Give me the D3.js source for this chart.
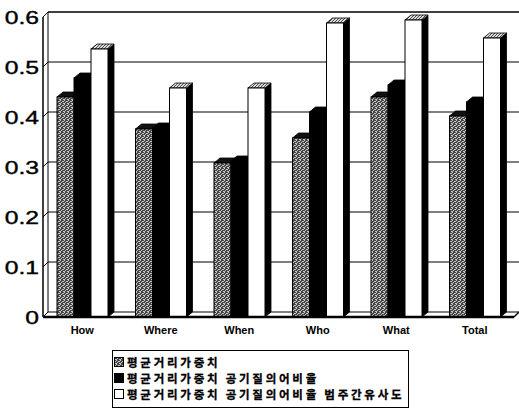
<!DOCTYPE html>
<html><head><meta charset="utf-8">
<script src="https://cdn.jsdelivr.net/npm/d3@7"></script>
<style>body{margin:0;background:#fff}svg{display:block}</style>
</head><body>
<svg id="c" width="519" height="409"></svg>
<script>
const categories = ["How","Where","When","Who","What","Total"];
const seriesNames = ["평균거리가중치","평균거리가중치 공기질의어비율","평균거리가중치 공기질의어비율 범주간유사도"];
const s1 = [0.44, 0.376, 0.308, 0.358, 0.44, 0.402];
const s2 = [0.478, 0.378, 0.312, 0.41, 0.464, 0.43];
const s3 = [0.536, 0.458, 0.458, 0.588, 0.594, 0.558];
const yTicks = [0, 0.1, 0.2, 0.3, 0.4, 0.5, 0.6];
const yTickLabels = ["0","0.1","0.2","0.3","0.4","0.5","0.6"];

const series = [s1, s2, s3];
const svg = d3.select("#c");
const defs = svg.append("defs");
const pat = defs.append("pattern").attr("id","stip").attr("width",4).attr("height",4).attr("patternUnits","userSpaceOnUse");
pat.append("rect").attr("width",4).attr("height",4).attr("fill","#444");
[[0,0],[2,1],[1,2],[3,3],[3,1],[0,3]].forEach(([a,b])=>pat.append("rect").attr("x",a).attr("y",b).attr("width",1).attr("height",1).attr("fill","#c8c8c8"));
const hat = defs.append("pattern").attr("id","hatch").attr("width",3).attr("height",3).attr("patternUnits","userSpaceOnUse");
hat.append("rect").attr("width",3).attr("height",3).attr("fill","#ddd");
hat.append("path").attr("d","M0,3L3,0").attr("stroke","#222").attr("stroke-width",0.8);

const dx = 6, dy = 5;
const x0 = d3.scaleBand().domain(categories).range([43, 514]);
const x1 = d3.scaleBand().domain([0,1,2]).range([14, 65]);
const y = d3.scaleLinear().domain([0, 0.6]).range([317, 17]);

const fills = ["url(#stip)", "#000", "#fff"];
const topFills = ["#111", "#000", "url(#hatch)"];

yTicks.forEach(t => {
  svg.append("line").attr("x1", 43+dx-1).attr("x2", 519).attr("y1", y(t)-dy).attr("y2", y(t)-dy)
    .attr("stroke","#000").attr("stroke-width", t===0.6?1.6:1.1);
});
svg.append("line").attr("x1",43).attr("x2",43).attr("y1",y(0)).attr("y2",y(0.6)).attr("stroke","#000").attr("stroke-width",1.5);
svg.append("line").attr("x1",43+dx-1).attr("x2",43+dx-1).attr("y1",y(0)-dy).attr("y2",y(0.6)-dy).attr("stroke","#000").attr("stroke-width",1);
yTicks.forEach(t => {
  svg.append("line").attr("x1",43).attr("x2",43+dx-1).attr("y1",y(t)).attr("y2",y(t)-dy).attr("stroke","#000").attr("stroke-width",1);
});

categories.forEach((c, i) => {
  series.forEach((s, k) => {
    const v = s[i];
    const x = x0(c) + x1(k), w = x1.bandwidth();
    const yt = y(v), yb = y(0);
    const g = svg.append("g");
    g.append("path").attr("d", `M${x+w},${yt}L${x+w+dx},${yt-dy}L${x+w+dx},${yb-dy}L${x+w},${yb}Z`).attr("fill","#000").attr("stroke","#000").attr("stroke-width",0.8);
    g.append("path").attr("d", `M${x},${yt}L${x+dx},${yt-dy}L${x+w+dx},${yt-dy}L${x+w},${yt}Z`).attr("fill", topFills[k]).attr("stroke","#000").attr("stroke-width",0.8);
    g.append("rect").attr("x", x).attr("y", yt).attr("width", w).attr("height", yb-yt)
      .attr("fill", fills[k]).attr("stroke","#000").attr("stroke-width",1);
  });
});

svg.append("line").attr("x1",43).attr("x2",514).attr("y1",y(0)).attr("y2",y(0)).attr("stroke","#000").attr("stroke-width",2.5);
svg.append("line").attr("x1",514).attr("x2",519).attr("y1",y(0)).attr("y2",y(0)-dy).attr("stroke","#000").attr("stroke-width",1.5);

yTicks.forEach((t, i) => {
  svg.append("text").attr("transform", `translate(39,${y(t)+7}) scale(1.3,1)`)
    .attr("text-anchor","end").attr("font-family","Liberation Sans, Arial, sans-serif")
    .attr("font-size",19).attr("fill","#000").attr("stroke","#000").attr("stroke-width",0.4).text(yTickLabels[i]);
});
categories.forEach(c => {
  svg.append("text").attr("x", x0(c)+x0.bandwidth()/2).attr("y", 334)
    .attr("text-anchor","middle").attr("font-family","Liberation Sans, Arial, sans-serif")
    .attr("font-size",11).attr("font-weight","bold").attr("fill","#000").text(c);
});

svg.append("rect").attr("x",112.5).attr("y",350.5).attr("width",296).attr("height",57).attr("fill","#fff").attr("stroke","#000").attr("stroke-width",1);
const legY = [362, 378, 394];
seriesNames.forEach((n, k) => {
  svg.append("rect").attr("x",114.5).attr("y",legY[k]-4.5).attr("width",9).attr("height",9)
    .attr("fill", fills[k]).attr("stroke","#000").attr("stroke-width",1);
  svg.append("text").attr("x",127).attr("y",legY[k]+4.5)
    .attr("font-family","Noto Sans CJK KR, sans-serif").attr("font-weight","bold")
    .attr("font-size",11.5).attr("letter-spacing",2.75).attr("fill","#000")
    .attr("stroke","#000").attr("stroke-width",0.3).text(n);
});
</script>
</body></html>
